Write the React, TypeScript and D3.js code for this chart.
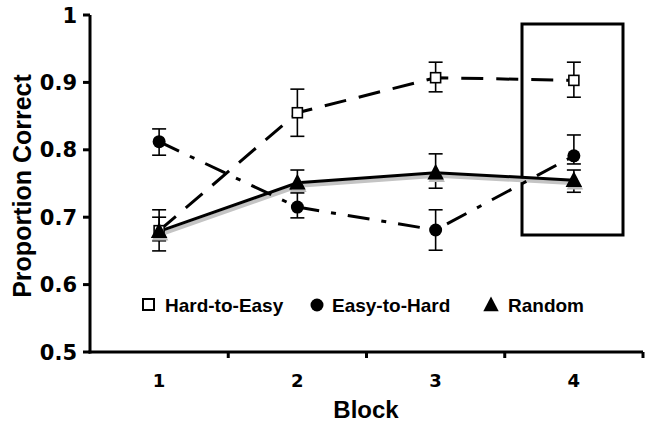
import React from 'react';
import * as d3 from 'd3';

const blocks = ['1', '2', '3', '4'];
const yTicks = [0.5, 0.6, 0.7, 0.8, 0.9, 1];

const hardToEasy = [0.68, 0.855, 0.907, 0.903];
const hardToEasyLo = [0.65, 0.82, 0.886, 0.878];
const hardToEasyHi = [0.711, 0.89, 0.93, 0.93];

const easyToHard = [0.812, 0.715, 0.681, 0.791];
const easyToHardLo = [0.792, 0.699, 0.651, 0.779];
const easyToHardHi = [0.831, 0.736, 0.711, 0.822];

const randomSeries = [0.679, 0.751, 0.766, 0.755];
const randomLo = [0.665, 0.742, 0.743, 0.737];
const randomHi = [0.70, 0.77, 0.794, 0.77];

const boldSans = '"Liberation Sans", Arial, sans-serif';
const boldVerdana = '"DejaVu Sans", Verdana, sans-serif';

export default function App() {
  const width = 657;
  const height = 430;
  const x = d3.scaleBand().domain(blocks).range([90, 643]);
  const y = d3.scaleLinear().domain([0.5, 1]).range([352, 15]);
  const cx = (b: string) => x(b)! + x.bandwidth() / 2;

  const line = d3.line<number>()
    .x((_, i) => cx(blocks[i]))
    .y(d => y(d));

  const errBars = (vals: number[], lo: number[], hi: number[], key: string) =>
    vals.map((v, i) => {
      const px = cx(blocks[i]);
      return (
        <g key={key + i} stroke="#000" strokeWidth={1.6}>
          <line x1={px} x2={px} y1={y(hi[i])} y2={y(lo[i])} />
          <line x1={px - 7} x2={px + 7} y1={y(hi[i])} y2={y(hi[i])} />
          <line x1={px - 7} x2={px + 7} y1={y(lo[i])} y2={y(lo[i])} />
        </g>
      );
    });

  const tri = (px: number, py: number, s: number) =>
    `M${px},${py - s * 0.6}L${px + s * 0.55},${py + s * 0.45}L${px - s * 0.55},${py + s * 0.45}Z`;

  const xBounds = blocks.map(b => x(b)! + x.bandwidth());

  return (
    <svg width={width} height={height} style={{ position: 'absolute', left: 0, top: 0, background: '#fff' }}>
      {/* highlight box */}
      <rect x={522} y={24} width={101} height={211} fill="none" stroke="#000" strokeWidth={3} />

      {/* axes */}
      <g stroke="#000" strokeWidth={3}>
        <line x1={90} x2={90} y1={y(1)} y2={y(0.5) + 1.5} />
        <line x1={88.5} x2={643} y1={y(0.5)} y2={y(0.5)} />
        {yTicks.map(t => (
          <line key={'yt' + t} x1={83} x2={90} y1={y(t)} y2={y(t)} />
        ))}
        {xBounds.map((b, i) => (
          <line key={'xt' + i} x1={b} x2={b} y1={y(0.5)} y2={y(0.5) + 6} />
        ))}
      </g>
      {yTicks.map(t => (
        <text key={'yl' + t} x={77} y={y(t)} dy="0.36em" textAnchor="end"
          fontFamily={boldVerdana} fontWeight="bold" fontSize={21}>
          {t === 1 ? '1' : t.toFixed(1)}
        </text>
      ))}
      {blocks.map(b => (
        <text key={'xl' + b} x={cx(b)} y={387} textAnchor="middle"
          fontFamily={boldVerdana} fontWeight="bold" fontSize={18}>{b}</text>
      ))}
      <text x={366} y={418} textAnchor="middle" fontFamily={boldSans} fontWeight="bold" fontSize={24}>Block</text>
      <text transform="translate(31,186) rotate(-90)" textAnchor="middle"
        fontFamily={boldSans} fontWeight="bold" fontSize={25}>Proportion Correct</text>

      {/* Random: solid with shadow */}
      <path d={line(randomSeries)!} transform="translate(1.5,3)" fill="none" stroke="#c4c4c4" strokeWidth={4} />
      <path d={line(randomSeries)!} fill="none" stroke="#000" strokeWidth={3} />
      {/* Hard-to-Easy: dashed */}
      <path d={line(hardToEasy)!} fill="none" stroke="#000" strokeWidth={3} strokeDasharray="22,13" />
      {/* Easy-to-Hard: dash-dot */}
      <path d={line(easyToHard)!} fill="none" stroke="#000" strokeWidth={3} strokeDasharray="22,12,5,12" />

      {errBars(hardToEasy, hardToEasyLo, hardToEasyHi, 'he')}
      {errBars(easyToHard, easyToHardLo, easyToHardHi, 'eh')}
      {errBars(randomSeries, randomLo, randomHi, 'r')}

      {hardToEasy.map((v, i) => (
        <rect key={'sq' + i} x={cx(blocks[i]) - 5} y={y(v) - 5} width={10} height={10}
          fill="#fff" stroke="#000" strokeWidth={1.6} />
      ))}
      {easyToHard.map((v, i) => (
        <circle key={'ci' + i} cx={cx(blocks[i])} cy={y(v)} r={6.5} fill="#000" />
      ))}
      {randomSeries.map((v, i) => (
        <g key={'tr' + i}>
          <path d={tri(cx(blocks[i]) + 1, y(v) + 2.5, 15)} fill="#bbb" />
          <path d={tri(cx(blocks[i]), y(v), 15)} fill="#000" />
        </g>
      ))}

      {/* legend */}
      <g fontFamily={boldSans} fontWeight="bold" fontSize={19}>
        <rect x={143} y={299} width={11} height={11} fill="#fff" stroke="#000" strokeWidth={2} />
        <text x={165} y={312}>Hard-to-Easy</text>
        <circle cx={317} cy={305} r={6.5} fill="#000" />
        <text x={332} y={312}>Easy-to-Hard</text>
        <path d={tri(491, 305, 14)} fill="#000" />
        <text x={508} y={312}>Random</text>
      </g>
    </svg>
  );
}
